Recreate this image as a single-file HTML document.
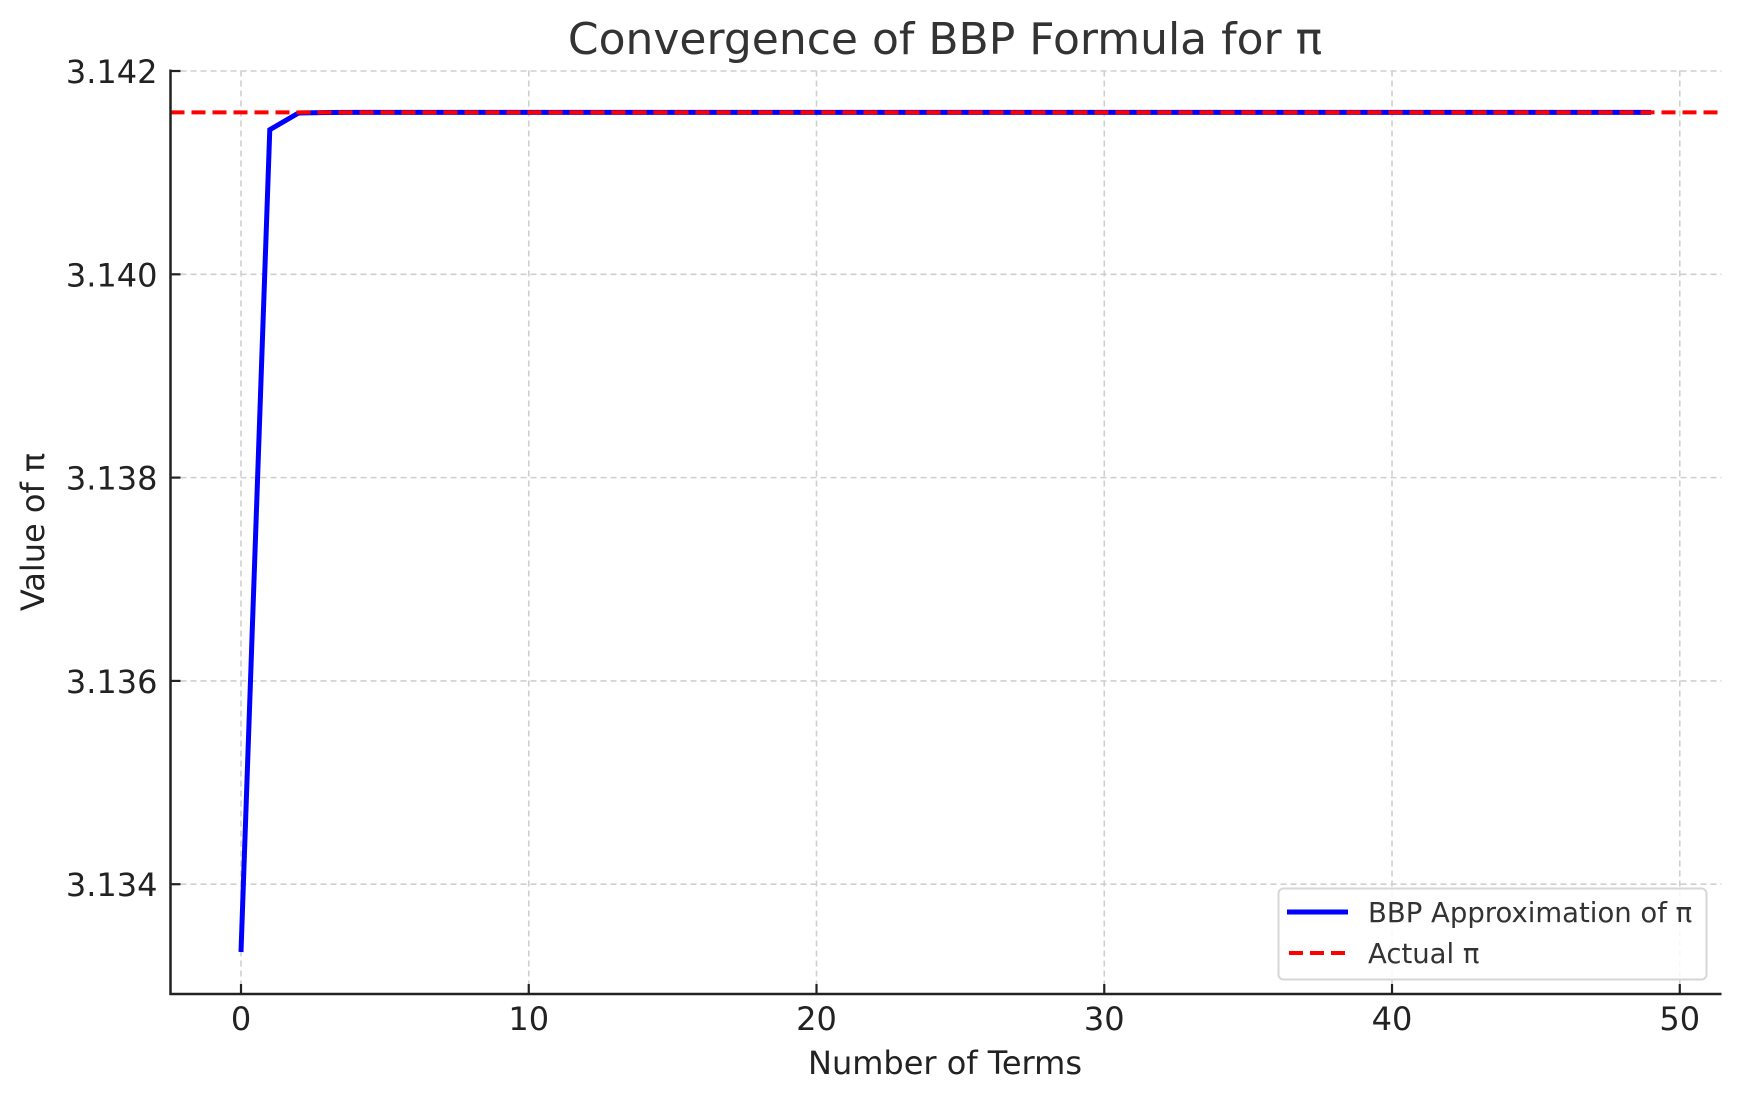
<!DOCTYPE html>
<html><head><meta charset="utf-8"><style>
html,body{margin:0;padding:0;background:#fff;}
svg{display:block;font-family:"DejaVu Sans","Liberation Sans",sans-serif;}
</style></head><body>
<svg id="chart" width="1739" height="1101" viewBox="0 0 1739 1101" xmlns="http://www.w3.org/2000/svg">
<rect width="1739" height="1101" fill="#fff"/>
<text x="945" y="54" font-size="44" fill="#333" text-anchor="middle">Convergence of BBP Formula for π</text>
<g id="grid"></g>
<g id="series"></g>
<g id="axes"></g>
<text x="945" y="1074" font-size="32" fill="#222" text-anchor="middle">Number of Terms</text>
<text transform="translate(44,532) rotate(-90)" font-size="32" fill="#222" text-anchor="middle">Value of π</text>
<g>
<rect x="1278.5" y="888.5" width="428" height="91" rx="5" fill="#fff" fill-opacity="0.85" stroke="#d6d6d6" stroke-width="2"/>
<g>
<line x1="1287" y1="912" x2="1348" y2="912" stroke="#0000ff" stroke-width="5"/>
<text x="1368" y="922" font-size="27.5" fill="#333">BBP Approximation of π</text>
</g>
<g>
<line x1="1289" y1="953" x2="1348" y2="953" stroke="#ff0000" stroke-width="4" stroke-dasharray="14,7"/>
<text x="1368" y="963" font-size="27.5" fill="#333">Actual π</text>
</g>
</g>
</svg>
<script>
const terms = [0,1,2,3,4,5,6,7,8,9,10,11,12,13,14,15,16,17,18,19,20,21,22,23,24,25,26,27,28,29,30,31,32,33,34,35,36,37,38,39,40,41,42,43,44,45,46,47,48,49];
const approx = [3.1333333,3.1414224,3.1415873,3.1415924,3.14159265,3.14159265,3.14159265,3.14159265,3.14159265,3.14159265,
3.14159265,3.14159265,3.14159265,3.14159265,3.14159265,3.14159265,3.14159265,3.14159265,3.14159265,3.14159265,
3.14159265,3.14159265,3.14159265,3.14159265,3.14159265,3.14159265,3.14159265,3.14159265,3.14159265,3.14159265,
3.14159265,3.14159265,3.14159265,3.14159265,3.14159265,3.14159265,3.14159265,3.14159265,3.14159265,3.14159265,
3.14159265,3.14159265,3.14159265,3.14159265,3.14159265,3.14159265,3.14159265,3.14159265,3.14159265,3.14159265];
const actualPi = [3.14159265];
const xTicks = [0,10,20,30,40,50];
const yTicks = [3.134,3.136,3.138,3.140,3.142];
const yTickLabels = ["3.134","3.136","3.138","3.140","3.142"];

const NS="http://www.w3.org/2000/svg";
const L=170.5,R=1721.5,T=70.5,B=994;
const xMin=-2.45,xMax=51.45;
const yMin=3.13292,yMax=3.142005;
function sx(v){return L+(v-xMin)/(xMax-xMin)*(R-L);}
function sy(v){return B-(v-yMin)/(yMax-yMin)*(B-T);}
function mk(tag,attrs,parent){const e=document.createElementNS(NS,tag);for(const k in attrs)e.setAttribute(k,attrs[k]);parent.appendChild(e);return e;}
const grid=document.getElementById('grid'),axes=document.getElementById('axes'),series=document.getElementById('series');

xTicks.forEach(t=>{
  const x=sx(t);
  const g=mk('line',{x1:x,y1:T,x2:x,y2:B,stroke:'#cfcfcf','stroke-width':1.6,'stroke-dasharray':'6,4'},grid);
  
  
  const tk=mk('line',{x1:x,y1:B,x2:x,y2:B-10,stroke:'#222','stroke-width':2.2},axes);
  
  
  const lb=mk('text',{x:x,y:B+36,'font-size':32,fill:'#222','text-anchor':'middle'},axes);
  lb.textContent=String(t);
  
  
});
yTicks.forEach((t,i)=>{
  const y=sy(t);
  const g=mk('line',{x1:L,y1:y,x2:R,y2:y,stroke:'#cfcfcf','stroke-width':1.6,'stroke-dasharray':'6,4'},grid);
  
  
  const tk=mk('line',{x1:L,y1:y,x2:L+10,y2:y,stroke:'#222','stroke-width':2.2},axes);
  
  
  const lb=mk('text',{x:L-13,y:y+12,'font-size':32,fill:'#222','text-anchor':'end'},axes);
  lb.textContent=yTickLabels[i];
  
  
});
const sp1=mk('line',{x1:L,y1:T-1,x2:L,y2:B+1,stroke:'#222','stroke-width':2.5},axes);


const sp2=mk('line',{x1:L-1,y1:B,x2:R,y2:B,stroke:'#222','stroke-width':2.5},axes);



const pts=terms.map((t,i)=>sx(t).toFixed(2)+','+sy(approx[i]).toFixed(2)).join(' ');
const line=mk('polyline',{points:pts,fill:'none',stroke:'#0000ff','stroke-width':5,'stroke-linejoin':'miter'},series);


const pl=mk('line',{x1:L,y1:sy(actualPi[0]),x2:R,y2:sy(actualPi[0]),stroke:'#ff0000','stroke-width':4,'stroke-dasharray':'14,7'},series);


</script>
</body></html>
